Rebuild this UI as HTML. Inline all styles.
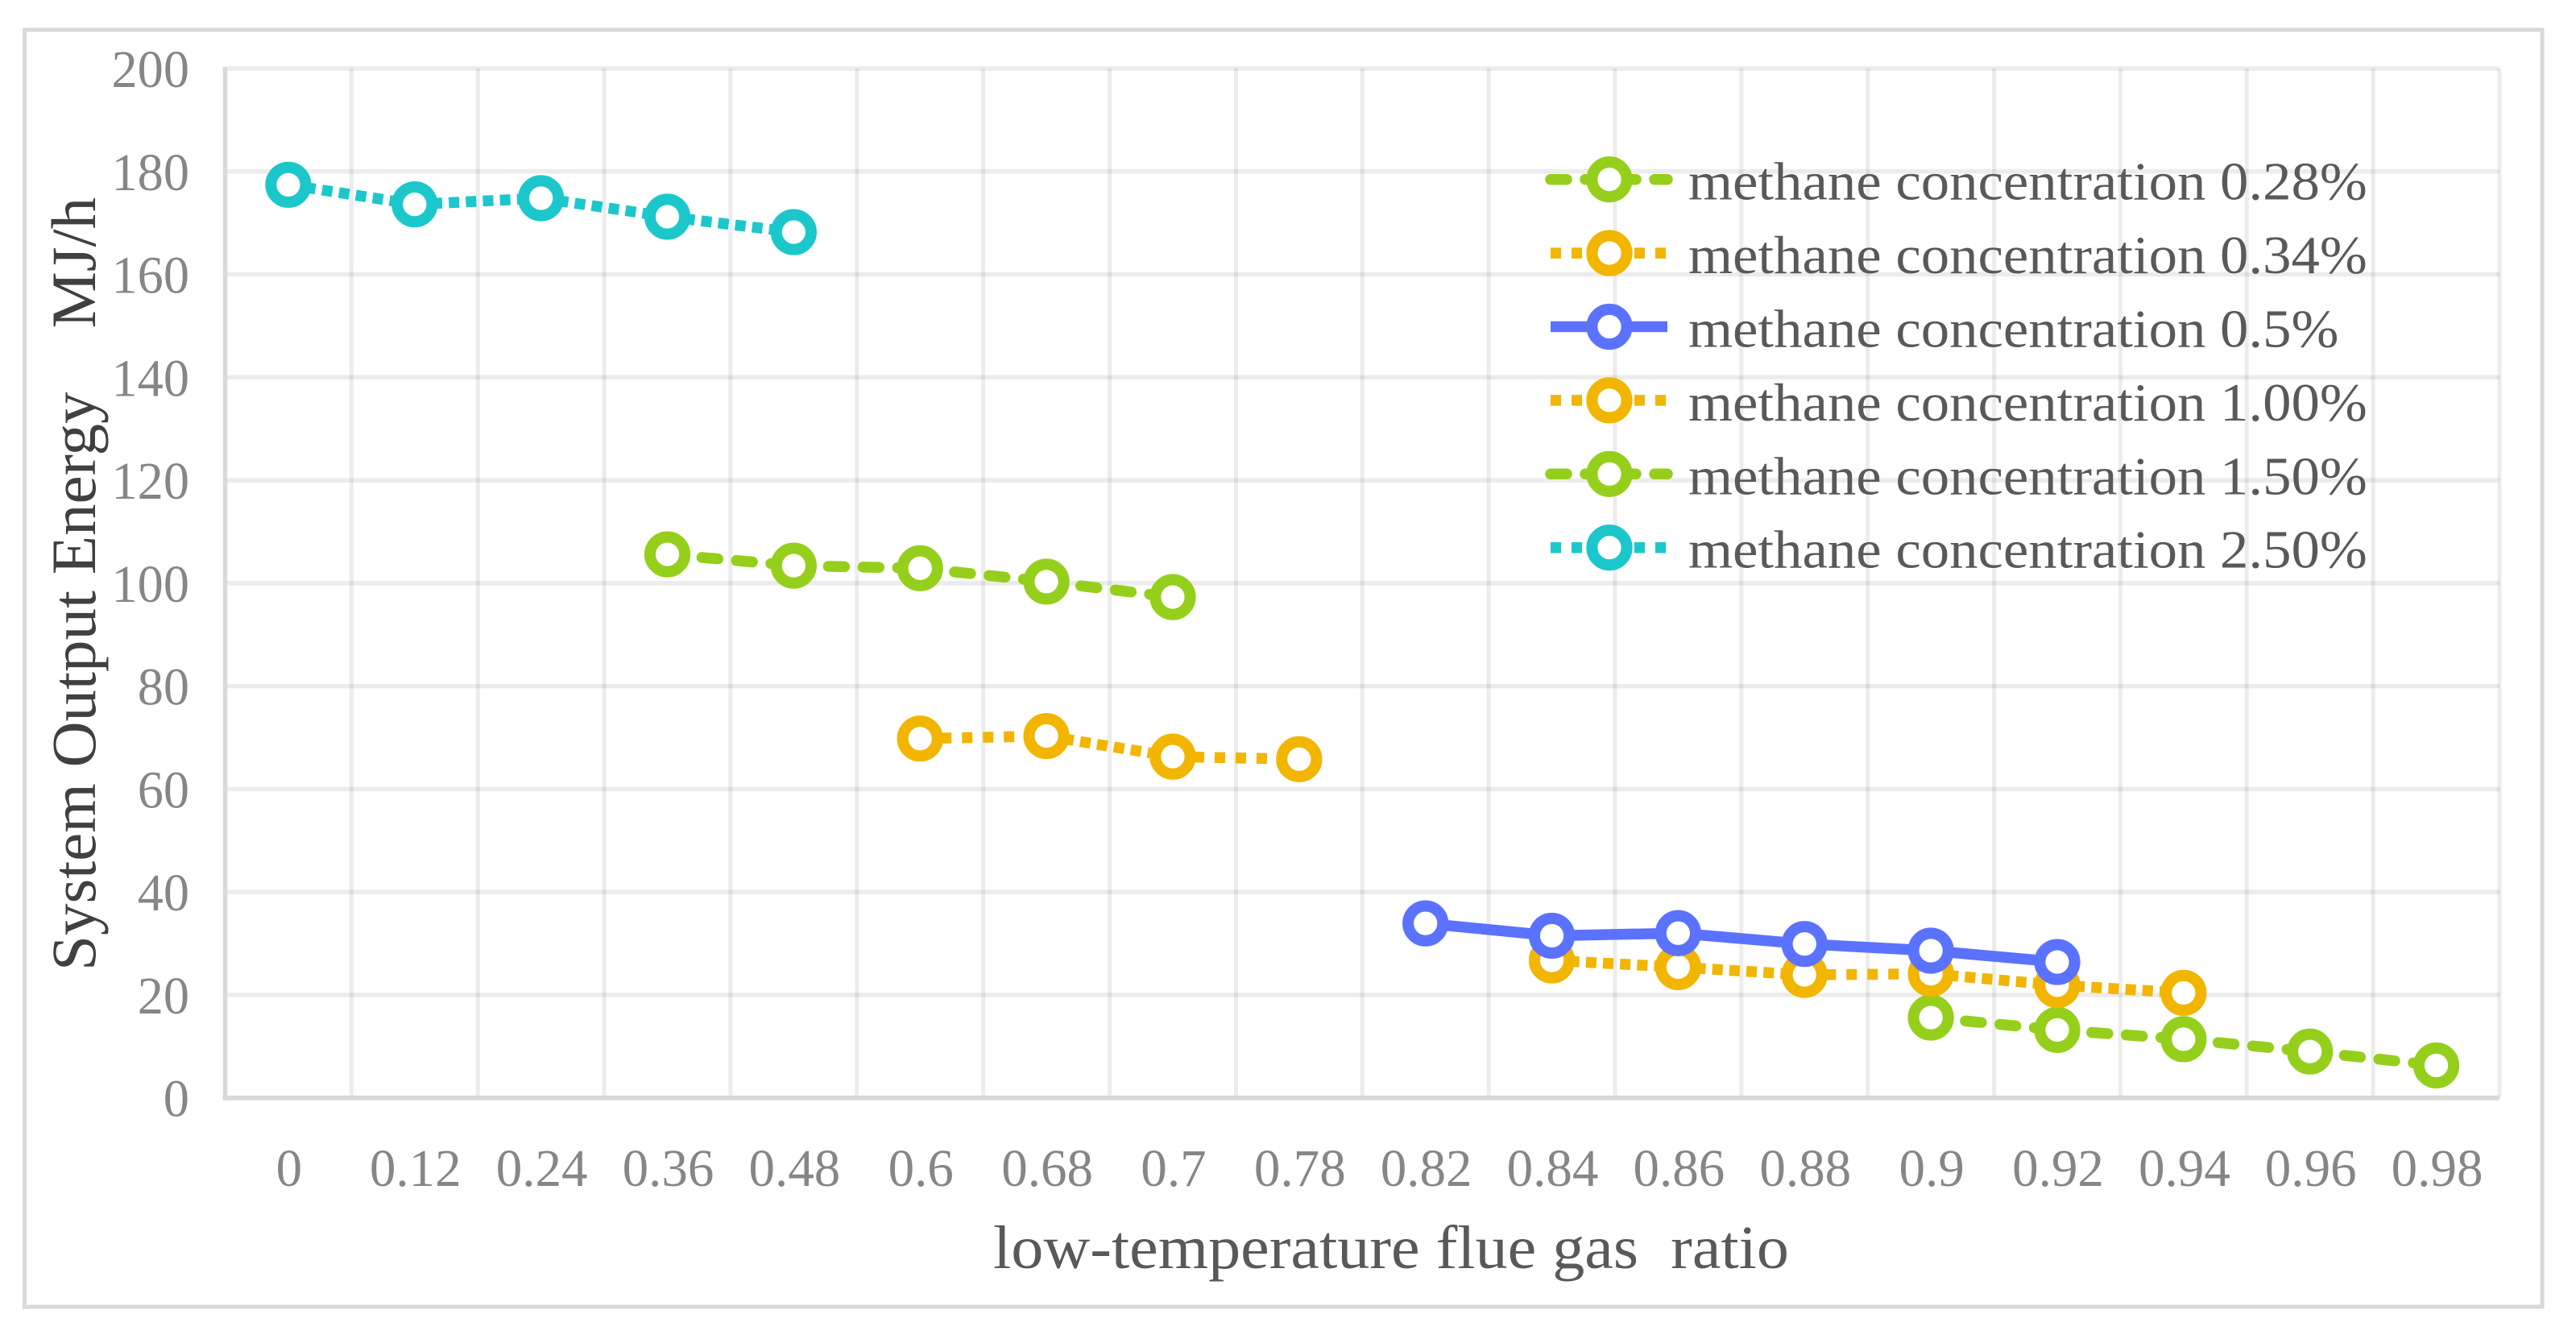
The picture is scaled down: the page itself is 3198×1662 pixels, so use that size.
<!DOCTYPE html>
<html lang="en">
<head>
<meta charset="utf-8">
<title>System Output Energy vs low-temperature flue gas ratio</title>
<style>
  html, body { margin: 0; padding: 0; background: #fff; }
  svg { display: block; }
  text { font-family: "Liberation Serif", serif; white-space: pre; }
</style>
</head>
<body>
<svg id="chart" xmlns="http://www.w3.org/2000/svg" width="3198" height="1662" viewBox="0 0 3198 1662">
  <rect x="0" y="0" width="3198" height="1662" fill="#ffffff"/>
  <rect x="30.5" y="37" width="3125.5" height="1585" fill="none" stroke="#d9d9d9" stroke-width="5"/>
  <g id="grid"></g>
  <g id="axes"></g>
  <g id="yticks"></g>
  <g id="xticks"></g>
  <g id="plot"></g>
  <g id="legend"></g>
  <text id="ytitle" transform="translate(118 1205) rotate(-90)" font-size="78" fill="#404040">System Output Energy    MJ/h</text>
  <text id="xtitle" x="1233" y="1574" font-size="76" fill="#595959">low-temperature flue gas  ratio</text>
</svg>
<script>
const categories = ['0','0.12','0.24','0.36','0.48','0.6','0.68','0.7','0.78','0.82','0.84','0.86','0.88','0.9','0.92','0.94','0.96','0.98'];
const yTickLabels = [0,20,40,60,80,100,120,140,160,180,200];
const seriesNames = ['methane concentration 0.28%','methane concentration 0.34%','methane concentration 0.5%','methane concentration 1.00%','methane concentration 1.50%','methane concentration 2.50%'];
const values028 = [null,null,null,null,null,null,null,null,null,null,null,null,null,15.6,13.2,11.4,9.0,6.3];
const values034 = [null,null,null,null,null,null,null,null,null,null,26.7,25.4,23.9,24.1,21.9,20.4,null,null];
const values050 = [null,null,null,null,null,null,null,null,null,33.9,31.5,32.0,29.9,28.6,26.4,null,null,null];
const values100 = [null,null,null,null,null,69.8,70.3,66.3,65.8,null,null,null,null,null,null,null,null,null];
const values150 = [null,null,null,105.6,103.4,102.9,100.3,97.3,null,null,null,null,null,null,null,null,null,null];
const values250 = [177.4,173.6,174.8,171.2,168.2,null,null,null,null,null,null,null,null,null,null,null,null,null];
const seriesValues = [values028, values034, values050, values100, values150, values250];

const NS = 'http://www.w3.org/2000/svg';
const plotLeft = 279.5, plotRight = 3103, plotTop = 85, plotBottom = 1362.7, yMax = 200;
const seriesColors = ['#95cf1b','#f2b500','#5b72ff','#f2b500','#95cf1b','#1cc7cb'];
const seriesKinds = ['dash','dot','solid','dot','dash','dot'];
const legendX1 = 1925, legendX2 = 2070, legendMid = 1998, legendTextX = 2096, legendY0 = 222.7, legendStep = 91.4;

function xScale(i) { return plotLeft + (plotRight - plotLeft) * (i + 0.5) / categories.length; }
function yScale(v) { return plotBottom - (plotBottom - plotTop) * v / yMax; }
function make(tag, attrs, parent) {
  const el = document.createElementNS(NS, tag);
  for (const k in attrs) el.setAttribute(k, attrs[k]);
  parent.appendChild(el);
  return el;
}
function stretch(el, k) { el.setAttribute('textLength', (el.getComputedTextLength() * k).toFixed(1)); el.setAttribute('lengthAdjust', 'spacingAndGlyphs'); }
function styleLine(el, kind, color, slanted) {
  el.setAttribute('stroke', color);
  el.setAttribute('stroke-width', '13.5');
  el.setAttribute('fill', 'none');
  if (kind === 'dash') { el.setAttribute('stroke-dasharray', '20 23'); el.setAttribute('stroke-linecap', 'round'); }
  if (kind === 'dot') { el.setAttribute('stroke-dasharray', slanted ? '13 8.2' : '13 13'); }
}

const gGrid = document.getElementById('grid');
yTickLabels.forEach(function (v) {
  if (v === 0) return;
  const l = make('line', {x1: plotLeft, x2: plotRight, y1: yScale(v), y2: yScale(v), stroke: '#000', 'stroke-opacity': '0.075', 'stroke-width': '5.5'}, gGrid);
  
  
});
for (let i = 1; i <= categories.length; i++) {
  const x = plotLeft + (plotRight - plotLeft) * i / categories.length;
  const l = make('line', {x1: x, x2: x, y1: plotTop, y2: plotBottom, stroke: '#000', 'stroke-opacity': '0.075', 'stroke-width': '5'}, gGrid);
  
  
}

const gAxes = document.getElementById('axes');
const yAxisLine = make('line', {x1: plotLeft, x2: plotLeft, y1: plotTop - 2, y2: plotBottom + 3, stroke: '#d9d9d9', 'stroke-width': '5.5'}, gAxes);


const xAxisLine = make('line', {x1: plotLeft - 3, x2: plotRight, y1: plotBottom, y2: plotBottom, stroke: '#d9d9d9', 'stroke-width': '6'}, gAxes);



const gY = document.getElementById('yticks');
yTickLabels.forEach(function (v) {
  const t = make('text', {x: 235, y: yScale(v) + 23, 'text-anchor': 'end', 'font-size': '66', fill: '#868686'}, gY);
  
  
  t.textContent = String(v);
  stretch(t, 0.975);
});

const gX = document.getElementById('xticks');
categories.forEach(function (c, i) {
  const t = make('text', {x: xScale(i) + 1, y: 1472, 'text-anchor': 'middle', 'font-size': '66', fill: '#868686'}, gX);
  
  
  t.textContent = c;
  stretch(t, 0.985);
});

const gPlot = document.getElementById('plot');
seriesValues.forEach(function (vals, s) {
  const g = make('g', {}, gPlot);
  
  
  vals.forEach(function (v, i) {
    if (v === null || i === 0 || vals[i - 1] === null) return;
    const seg = make('line', {x1: xScale(i - 1), y1: yScale(vals[i - 1]), x2: xScale(i), y2: yScale(v)}, g);
    
    
    styleLine(seg, seriesKinds[s], seriesColors[s], Math.abs(yScale(v) - yScale(vals[i - 1])) > 5);
  });
  vals.forEach(function (v, i) {
    if (v === null) return;
    const m = make('circle', {cx: xScale(i), cy: yScale(v), r: 21.6, fill: '#ffffff', stroke: seriesColors[s], 'stroke-width': '14'}, g);
    
    
  });
});

const gLegend = document.getElementById('legend');
seriesNames.forEach(function (name, s) {
  const y = legendY0 + legendStep * s;
  const g = make('g', {}, gLegend);
  
  
  const l = make('line', {x1: legendX1, x2: legendX2, y1: y, y2: y}, g);
  
  
  styleLine(l, seriesKinds[s], seriesColors[s], false);
  const m = make('circle', {cx: legendMid, cy: y, r: 21.6, fill: '#ffffff', stroke: seriesColors[s], 'stroke-width': '14'}, g);
  
  
  const t = make('text', {x: legendTextX, y: y + 25, 'font-size': '67', fill: '#595959'}, g);
  
  
  t.textContent = name;
  stretch(t, 1.056);
});

const yTitleEl = document.getElementById('ytitle');
yTitleEl.setAttribute('textLength', '960');
yTitleEl.setAttribute('lengthAdjust', 'spacingAndGlyphs');
const xTitleEl = document.getElementById('xtitle');
xTitleEl.setAttribute('textLength', '988');
xTitleEl.setAttribute('lengthAdjust', 'spacingAndGlyphs');
</script>
</body>
</html>
